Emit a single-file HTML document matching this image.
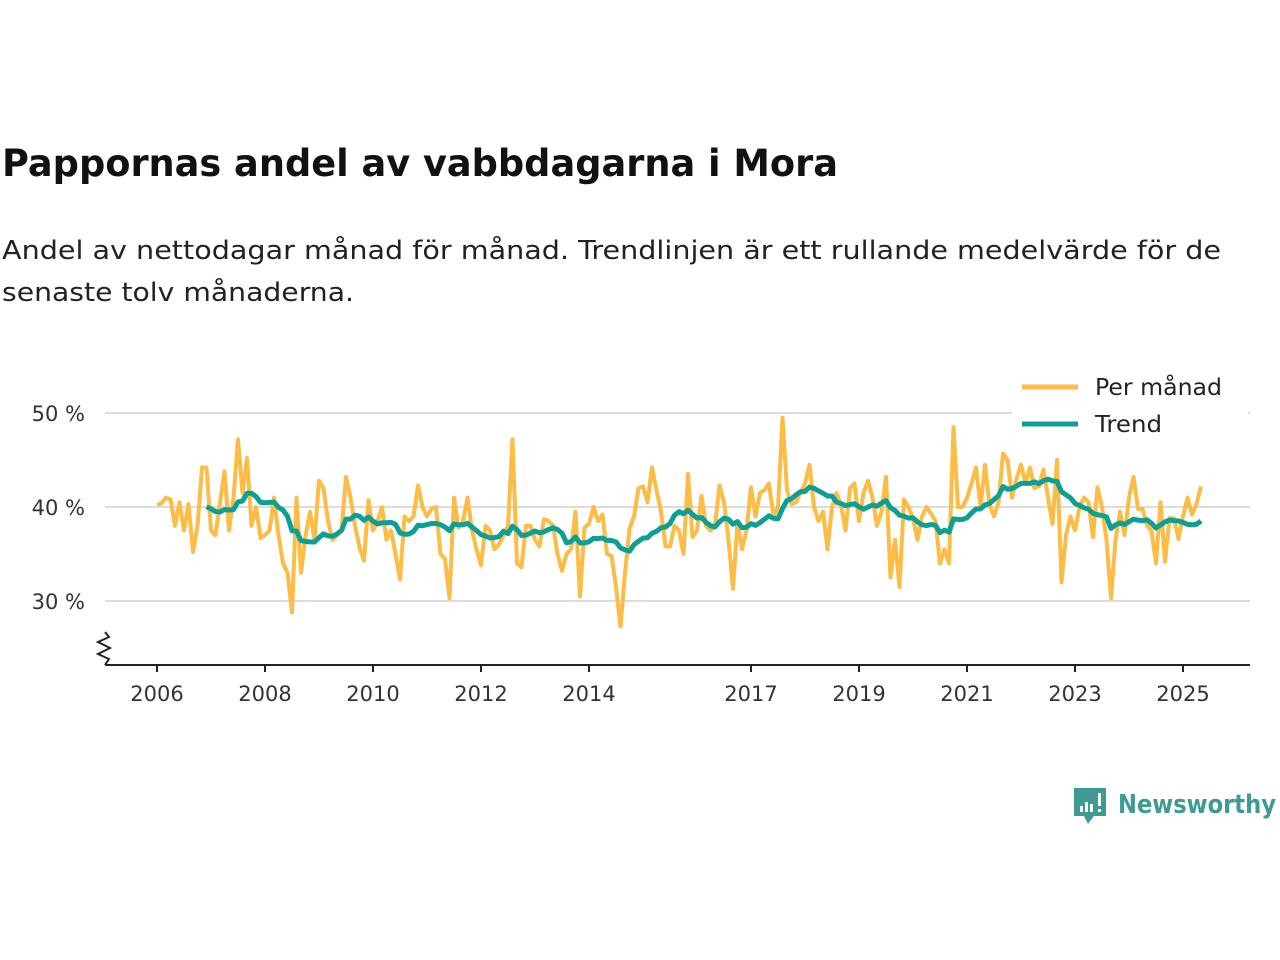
<!DOCTYPE html>
<html><head><meta charset="utf-8"><style>
body{margin:0;background:#fff;width:1280px;height:960px;overflow:hidden;font-family:"DejaVu Sans","Liberation Sans",sans-serif;}
svg text{font-family:"DejaVu Sans","Liberation Sans",sans-serif;}
</style></head><body>
<svg id="chart" width="1280" height="960" xmlns="http://www.w3.org/2000/svg" style="position:absolute;left:0;top:0">
<text x="2" y="176" font-size="37" font-weight="bold" fill="#111" textLength="836" lengthAdjust="spacingAndGlyphs">Pappornas andel av vabbdagarna i Mora</text>
<text x="2" y="259" font-size="26" fill="#222" textLength="1219" lengthAdjust="spacingAndGlyphs">Andel av nettodagar månad för månad. Trendlinjen är ett rullande medelvärde för de</text>
<text x="2" y="301" font-size="26" fill="#222" textLength="352" lengthAdjust="spacingAndGlyphs">senaste tolv månaderna.</text>
<g id="grid"></g><g id="axes"></g><g id="series"></g>
<g>
<rect x="1012" y="370" width="236" height="75" fill="#fff"/>
<line x1="1022" y1="387" x2="1078" y2="387" stroke="#FDBC45" stroke-width="5"/>
<text x="1095" y="395" font-size="23" fill="#222" textLength="127" lengthAdjust="spacingAndGlyphs">Per månad</text>
<line x1="1022" y1="424" x2="1078" y2="424" stroke="#0E9F94" stroke-width="5"/>
<text x="1095" y="432" font-size="23" fill="#222" textLength="67" lengthAdjust="spacingAndGlyphs">Trend</text>
</g>
<g>
<path d="M1074 788h32v28h-12l-6 8-4-8h-10z" fill="#3F9A94"/>
<rect x="1080" y="806" width="3" height="6" fill="#fff"/><rect x="1085" y="802" width="3" height="10" fill="#fff"/><rect x="1090" y="804" width="3" height="8" fill="#fff"/><rect x="1098" y="793" width="3" height="13" fill="#fff"/><rect x="1098" y="809" width="3" height="3" fill="#fff"/>
<text x="1118" y="813" font-size="26" font-weight="bold" fill="#3F9A94" textLength="158" lengthAdjust="spacingAndGlyphs">Newsworthy</text>
</g>
</svg>
<script>
const monthly=[
40.2,40.4,41,40.8,38,40.5,37.5,40.3,35.2,38,44.2,44.2,
37.5,37,40.5,43.8,37.5,41,47.2,41.5,45.2,38,40,36.7,
37,37.5,41,37,34,33,28.8,41,33,37,39.5,36.5,
42.8,42,38.5,36.5,37,37.5,43.2,41,38,35.7,34.3,40.7,
37.5,38.5,40,36.5,37.5,35,32.3,39,38.5,39,42.3,40,
39,39.8,40,35,34.5,30.3,41,37.8,38.5,41,37.5,35.5,
33.8,38,37.5,35.5,36,37,38,47.2,34,33.6,38,38,
36.5,35.8,38.7,38.5,38,35,33.2,35,35.5,39.5,30.5,37.8,
38.2,40,38.5,39.2,35,34.8,31.5,27.3,33,37.7,39,42,
42.2,40.5,44.2,41.8,39.5,35.8,35.8,38,37.5,35,43.5,36.8,
37.5,41.2,38,37.5,38,42.3,40.5,36.5,31.3,38.3,35.5,37.5,
42.1,39,41.5,41.8,42.5,39,40,49.5,41.8,40.3,40.5,41.5,
42.5,44.5,40,38.5,39.5,35.5,40,41.5,40.2,37.5,42,42.5,
38.5,41.5,42.8,41,38,39.5,43.2,32.5,36.5,31.5,40.8,40,
38.8,36.5,39,40,39.3,38.5,34,35.5,34,48.5,40,40,
41,42.5,44.2,40,44.5,40.2,39,40.5,45.7,45,41,43,
44.5,42.5,44.2,42,42.2,44,41,38.2,45,32,37,39,
37.5,40,41,40.5,36.8,42.1,40,36.5,30.3,36.5,39.5,37,
41,43.2,39.8,39.8,38,37.5,34,40.5,34.2,38.8,38.8,36.6,
39,41,39.2,40.3,42.2];
const startYear=2006;
const yTicks=[30,40,50];
const xTickYears=[2006,2008,2010,2012,2014,2017,2019,2021,2023,2025];
const NS="http://www.w3.org/2000/svg";
const xs=i=>157+i*54/12;
const ys=v=>507-(v-40)*9.4;
function mk(t,a,p){const e=document.createElementNS(NS,t);for(const k in a)e.setAttribute(k,a[k]);p.appendChild(e);return e;}
const grid=document.getElementById('grid'),axes=document.getElementById('axes'),ser=document.getElementById('series');
yTicks.forEach(v=>{
 const l=mk('line',{x1:105,x2:1250,y1:ys(v),y2:ys(v),stroke:'#ddd','stroke-width':2},grid);
 
 
 const t=mk('text',{x:85,y:ys(v)+8,'font-size':21,fill:'#333','text-anchor':'end'},grid);
 t.textContent=v+' %';
 
 
});
const ax=mk('path',{d:'M105 665H1250',stroke:'#222','stroke-width':2,fill:'none'},axes);


const zz=mk('path',{d:'M105 632 L109 637 L98 642 L110 648 L98 654 L109 659 L105 665',stroke:'#222','stroke-width':2,fill:'none'},axes);


xTickYears.forEach(y=>{
 const x=xs((y-startYear)*12);
 mk('line',{x1:x,x2:x,y1:665,y2:672,stroke:'#222','stroke-width':2},axes);
 const t=mk('text',{x:x,y:701,'font-size':21,fill:'#333','text-anchor':'middle'},axes);
 t.textContent=y;
 
 
});
const mp=mk('polyline',{points:monthly.map((v,i)=>xs(i)+','+ys(v)).join(' '),fill:'none',stroke:'#FDBC45','stroke-width':4,'stroke-linejoin':'round'},ser);


const trend=[];
for(let i=11;i<monthly.length;i++){let s=0;for(let j=i-11;j<=i;j++)s+=monthly[j];trend.push([i,s/12]);}
const tp=mk('polyline',{points:trend.map(p=>xs(p[0])+','+ys(p[1])).join(' '),fill:'none',stroke:'#0E9F94','stroke-width':5,'stroke-linejoin':'round'},ser);


</script>
</body></html>
